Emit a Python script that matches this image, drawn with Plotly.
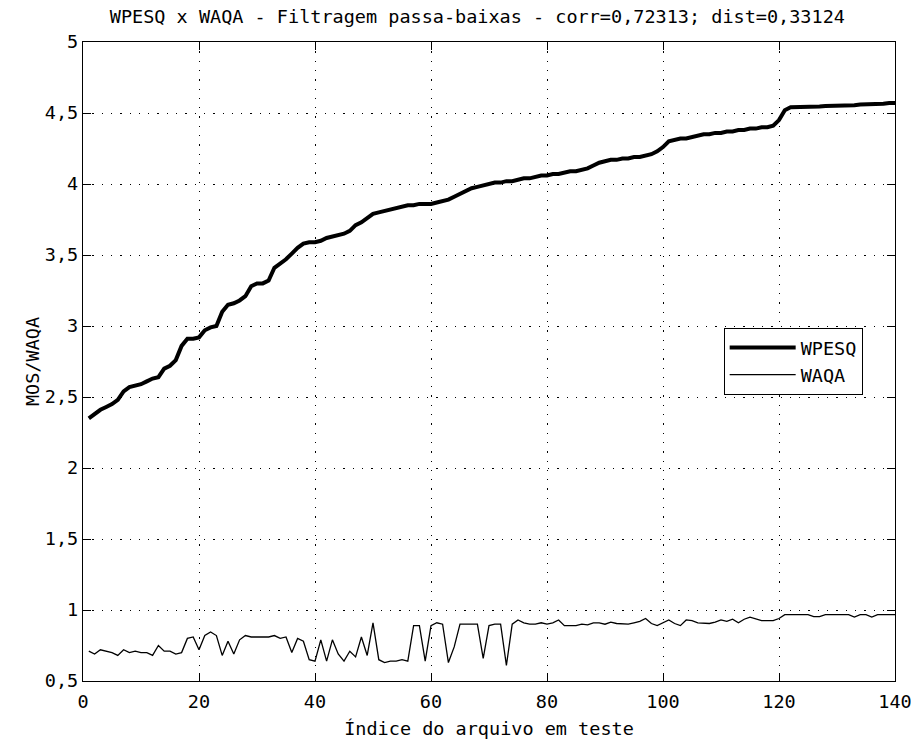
import plotly.graph_objects as go

# Índice dos arquivos de teste (1..140)
indices = list(range(1, 141))

# Notas WPESQ (ordenadas em ordem crescente)
wpesq = [
    2.35, 2.38, 2.41, 2.43, 2.45, 2.48, 2.54, 2.57, 2.58, 2.59,
    2.61, 2.63, 2.64, 2.70, 2.72, 2.76, 2.86, 2.91, 2.91, 2.92,
    2.97, 2.99, 3.00, 3.10, 3.15, 3.16, 3.18, 3.21, 3.28, 3.30,
    3.30, 3.32, 3.41, 3.44, 3.47, 3.51, 3.55, 3.58, 3.59, 3.59,
    3.60, 3.62, 3.63, 3.64, 3.65, 3.67, 3.71, 3.73, 3.76, 3.79,
    3.80, 3.81, 3.82, 3.83, 3.84, 3.85, 3.85, 3.86, 3.86, 3.86,
    3.87, 3.88, 3.89, 3.91, 3.93, 3.95, 3.97, 3.98, 3.99, 4.00,
    4.01, 4.01, 4.02, 4.02, 4.03, 4.04, 4.04, 4.05, 4.06, 4.06,
    4.07, 4.07, 4.08, 4.09, 4.09, 4.10, 4.11, 4.13, 4.15, 4.16,
    4.17, 4.17, 4.18, 4.18, 4.19, 4.19, 4.20, 4.21, 4.23, 4.26,
    4.30, 4.31, 4.32, 4.32, 4.33, 4.34, 4.35, 4.35, 4.36, 4.36,
    4.37, 4.37, 4.38, 4.38, 4.39, 4.39, 4.40, 4.40, 4.41, 4.45,
    4.52, 4.54, 4.54, 4.54, 4.54, 4.545, 4.545, 4.55, 4.55, 4.55,
    4.55, 4.555, 4.555, 4.56, 4.56, 4.56, 4.565, 4.565, 4.57, 4.57,
]

# Notas WAQA para os mesmos arquivos
waqa = [
    0.71, 0.69, 0.72, 0.71, 0.70, 0.68, 0.72, 0.70, 0.71, 0.70,
    0.70, 0.68, 0.75, 0.71, 0.71, 0.69, 0.70, 0.80, 0.81, 0.72,
    0.82, 0.845, 0.82, 0.68, 0.78, 0.69, 0.79, 0.82, 0.81, 0.81,
    0.81, 0.81, 0.82, 0.80, 0.81, 0.70, 0.80, 0.78, 0.65, 0.64,
    0.79, 0.64, 0.79, 0.69, 0.64, 0.71, 0.67, 0.81, 0.68, 0.91,
    0.65, 0.63, 0.64, 0.64, 0.65, 0.64, 0.89, 0.89, 0.64, 0.89,
    0.91, 0.90, 0.63, 0.74, 0.90, 0.90, 0.90, 0.90, 0.66, 0.89,
    0.90, 0.90, 0.61, 0.90, 0.93, 0.91, 0.90, 0.90, 0.91, 0.90,
    0.91, 0.93, 0.89, 0.89, 0.89, 0.90, 0.895, 0.91, 0.91, 0.90,
    0.915, 0.905, 0.90, 0.90, 0.91, 0.92, 0.94, 0.905, 0.89, 0.91,
    0.93, 0.905, 0.89, 0.93, 0.925, 0.91, 0.91, 0.905, 0.915, 0.93,
    0.92, 0.935, 0.91, 0.935, 0.95, 0.94, 0.925, 0.925, 0.925, 0.94,
    0.967, 0.967, 0.967, 0.967, 0.967, 0.953, 0.953, 0.967, 0.967, 0.967,
    0.967, 0.967, 0.95, 0.967, 0.967, 0.95, 0.967, 0.967, 0.967, 0.967,
]

x_ticks = [0, 20, 40, 60, 80, 100, 120, 140]
y_ticks = [0.5, 1, 1.5, 2, 2.5, 3, 3.5, 4, 4.5, 5]

FONT = "DejaVu Sans Mono"
FS = 18.5

fig = go.Figure()
fig.add_trace(go.Scatter(x=indices, y=wpesq, mode="lines", name="WPESQ",
                         line=dict(color="black", width=4)))
fig.add_trace(go.Scatter(x=indices, y=waqa, mode="lines", name="WAQA",
                         line=dict(color="black", width=1.3)))

axis_common = dict(
    showline=True, linecolor="black", linewidth=1.2, mirror="ticks",
    ticks="inside", ticklen=8, tickwidth=1.2, tickcolor="black",
    showgrid=True, gridcolor="black", gridwidth=1.3, griddash="1.3px,8px",
    zeroline=False, tickfont=dict(family=FONT, size=FS, color="black"),
    ticklabeloverflow="allow", automargin=False,
)

fig.update_layout(
    width=911, height=740,
    margin=dict(l=83, r=16, t=42, b=59),
    paper_bgcolor="white", plot_bgcolor="white",
    separators=", ",
    font=dict(family=FONT, size=FS, color="black"),
    title=dict(text="WPESQ x WAQA - Filtragem passa-baixas - corr=0,72313; dist=0,33124",
               x=0.524, xanchor="center", y=1 - 17 / 740, yanchor="middle",
               font=dict(family=FONT, size=FS, color="black")),
    xaxis=dict(range=[0, 140], tickvals=x_ticks, ticklabelstandoff=4,
               title=dict(text="Índice do arquivo em teste", standoff=10,
                          font=dict(family=FONT, size=FS)),
               **axis_common),
    yaxis=dict(range=[0.5, 5], tickvals=y_ticks,
               title=dict(text="MOS/WAQA", standoff=0,
                          font=dict(family=FONT, size=FS)),
               **axis_common),
    showlegend=True,
    legend=dict(x=0.789, y=0.5524, xanchor="left", yanchor="top",
                bgcolor="white", bordercolor="black", borderwidth=1,
                font=dict(family=FONT, size=FS, color="black"),
                itemwidth=66, tracegroupgap=0),
)

fig.write_html("out.html")
